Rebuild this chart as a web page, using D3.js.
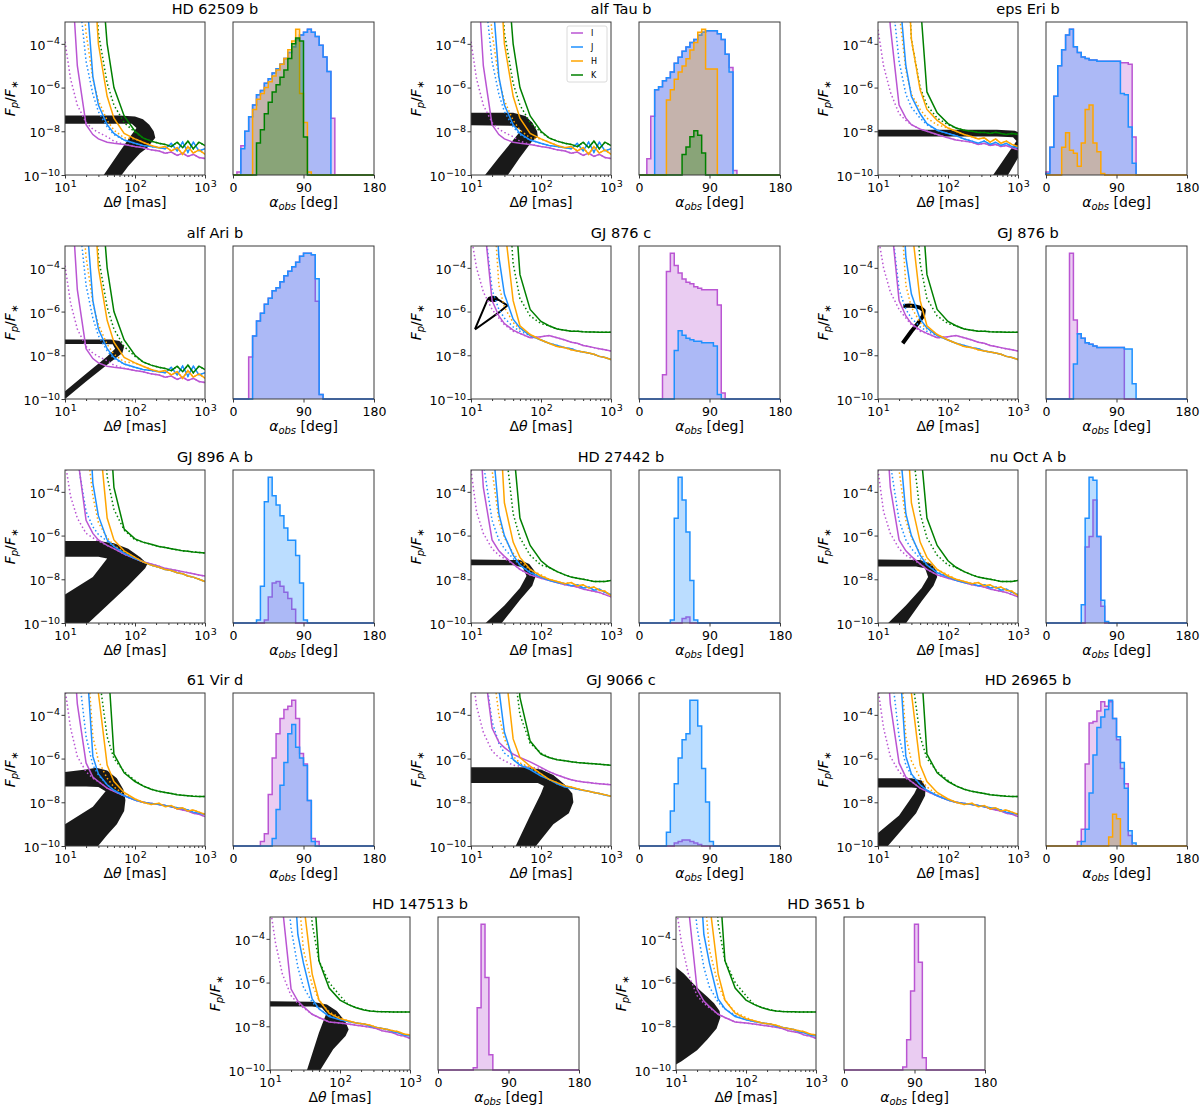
<!DOCTYPE html>
<meta charset="utf-8">
<style>
body { margin: 0; background: #fff; }
text { font-family: "DejaVu Sans", sans-serif; fill: #000; }
.frame { fill: none; stroke: #3a3a3a; stroke-width: 1; }
.tick line { stroke: #3a3a3a; }
</style>
<body></body>
<script src="https://cdn.jsdelivr.net/npm/d3@7"></script>
<script>

// planets, one pair of panels each
var planetNames = ["HD 62509 b", "alf Tau b", "eps Eri b", "alf Ari b", "GJ 876 c", "GJ 876 b",
  "GJ 896 A b", "HD 27442 b", "nu Oct A b", "61 Vir d", "GJ 9066 c", "HD 26965 b", "HD 147513 b", "HD 3651 b"];
// which contrast-curve set each planet uses (index into solidCurves / dottedCurves)
var contrastSet = [0, 0, 1, 0, 2, 2, 3, 4, 4, 5, 6, 5, 7, 7];

var bandNames = ["I", "J", "H", "K"];
var bandColors = ["mediumorchid", "dodgerblue", "orange", "green"];

// separation grid in mas; contrast values are log10(Fp/F*)
var sepGrid = [10, 12, 15, 20, 25, 30, 40, 50, 70, 100, 130, 170, 220, 270, 330, 400, 480, 570, 680, 820, 1000];

var solidGiant = [
  [3, 0, -5.0, -7.7, -8.15, -8.35, -8.5, -8.55, -8.6, -8.7, -8.75, -8.85, -8.9, -9.0, -8.95, -9.1, -9.0, -9.15, -9.05, -9.2, -9.25],
  [3, 3, 3, -1.5, -5.5, -6.8, -7.7, -8.1, -8.4, -8.55, -8.65, -8.7, -8.75, -8.8, -8.55, -8.9, -8.5, -8.95, -8.5, -8.9, -8.8],
  [3, 3, 3, 3, 0, -4.0, -6.4, -7.4, -8.1, -8.35, -8.5, -8.65, -8.75, -8.7, -8.9, -8.75, -9.05, -8.7, -9.0, -8.85, -9.05],
  [3, 3, 3, 3, 3, 1, -4.0, -6.0, -7.3, -8.0, -8.3, -8.45, -8.55, -8.6, -8.7, -8.5, -8.75, -8.45, -8.8, -8.5, -8.65]
];
var dottedGiant = [
  [-3.9, -5.6, -6.8, -7.6, -7.9, -8.05, -8.25, -8.45, -8.6, -8.7],
  [3, 2, -1.0, -4.8, -6.3, -7.1, -7.8, -8.15, -8.4, -8.55],
  [3, 3, 1, -3.5, -5.6, -6.6, -7.5, -7.95, -8.3, -8.35],
  [3, 3, 3, 3, 1, -3.5, -5.8, -6.8, -7.6, -8.05]
];

var solidEpsEri = [
  [3, 1, -3.2, -6.8, -7.4, -7.7, -7.9, -8.0, -8.15, -8.3, -8.4, -8.45, -8.5, -8.6, -8.55, -8.65, -8.6, -8.7, -8.65, -8.75, -8.85],
  [3, 3, 3, -1.5, -5.0, -6.4, -7.2, -7.65, -7.95, -8.1, -8.2, -8.35, -8.45, -8.55, -8.45, -8.6, -8.5, -8.65, -8.55, -8.7, -8.75],
  [3, 3, 3, 3, 1, -3.8, -6.1, -7.0, -7.5, -7.85, -8.0, -8.15, -8.25, -8.35, -8.3, -8.5, -8.35, -8.55, -8.45, -8.6, -8.7],
  [3, 3, 3, 3, 3, 2, -2, -6.2, -7.15, -7.65, -7.85, -7.95, -8.0, -8.05, -8.05, -8.1, -8.05, -8.1, -8.15, -8.1, -8.15]
];
var dottedEpsEri = [
  [-3.35, -5.0, -6.2, -7.2, -7.5, -7.7, -7.9, -8.0, -8.15, -8.3],
  [3, 3, -1, -4.8, -6.3, -6.9, -7.4, -7.7, -7.95, -8.1],
  [3, 3, 2, -2.5, -5.2, -6.3, -7.0, -7.4, -7.7, -7.85],
  [3, 3, 3, 3, 1, -3.8, -6.0, -6.8, -7.4, -7.7]
];

var solidGJ876 = [
  [3, 2, -1.5, -5.5, -6.2, -6.55, -6.85, -7.0, -7.2, -7.15, -7.1, -7.2, -7.3, -7.4, -7.45, -7.55, -7.6, -7.65, -7.7, -7.75, -7.8],
  [3, 3, 3, 2, -3.5, -5.2, -6.35, -6.75, -7.1, -7.3, -7.45, -7.55, -7.65, -7.7, -7.8, -7.85, -7.9, -7.95, -8.05, -8.1, -8.2],
  [3, 3, 3, 3, 2, -2, -5.5, -6.65, -7.05, -7.3, -7.45, -7.6, -7.65, -7.75, -7.8, -7.85, -7.9, -7.95, -8.05, -8.1, -8.2],
  [3, 3, 3, 3, 3, 3, 0, -4.3, -5.9, -6.45, -6.65, -6.8, -6.85, -6.9, -6.9, -6.92, -6.93, -6.94, -6.95, -6.95, -6.95]
];
var dottedGJ876 = [
  [-2.5, -4.0, -5.1, -5.9, -6.3, -6.6, -6.9, -7.0, -7.2, -7.15],
  [3, 3, -1.5, -5.0, -5.9, -6.3, -6.7, -6.9, -7.1, -7.3],
  [3, 3, 3, 0, -4.8, -5.8, -6.5, -6.8, -7.05, -7.3],
  [3, 3, 3, 3, 3, 2, -3.8, -5.4, -6.2, -6.55]
];

var solidGJ896 = [
  [3, 1, -2.3, -5.3, -5.9, -6.2, -6.45, -6.6, -6.85, -7.05, -7.2, -7.3, -7.4, -7.5, -7.55, -7.6, -7.65, -7.7, -7.75, -7.8, -7.85],
  [3, 3, 3, 2, -3.6, -5.1, -6.2, -6.5, -6.8, -7.05, -7.2, -7.35, -7.45, -7.55, -7.6, -7.7, -7.75, -7.85, -7.9, -8.0, -8.1],
  [3, 3, 3, 3, 2, -1, -5.2, -6.2, -6.7, -7.0, -7.2, -7.35, -7.45, -7.55, -7.6, -7.7, -7.75, -7.85, -7.9, -8.0, -8.1],
  [3, 3, 3, 3, 3, 3, 1, -3.8, -5.7, -6.15, -6.3, -6.4, -6.5, -6.55, -6.6, -6.65, -6.7, -6.72, -6.75, -6.77, -6.8]
];
var dottedGJ896 = [
  [-2.6, -4.2, -5.2, -5.9, -6.1, -6.25, -6.45, -6.6, -6.85, -7.05],
  [3, 3, -2.5, -4.9, -5.6, -5.95, -6.25, -6.5, -6.8, -7.05],
  [3, 3, 3, -1.5, -4.2, -5.4, -6.1, -6.45, -6.75, -7.0],
  [3, 3, 3, 3, 3, 3, -3.3, -4.8, -5.75, -6.2]
];

var solidSunA = [
  [3, 1, -3.8, -6.2, -6.7, -6.95, -7.3, -7.55, -7.8, -7.95, -8.05, -8.15, -8.25, -8.3, -8.35, -8.45, -8.5, -8.55, -8.6, -8.7, -8.8],
  [3, 3, 3, -1.5, -5.0, -6.0, -6.9, -7.35, -7.7, -7.9, -8.05, -8.15, -8.2, -8.3, -8.25, -8.4, -8.35, -8.5, -8.45, -8.6, -8.7],
  [3, 3, 3, 3, 0, -4.5, -6.3, -7.0, -7.55, -7.85, -8.0, -8.1, -8.2, -8.15, -8.3, -8.25, -8.4, -8.35, -8.5, -8.55, -8.75],
  [3, 3, 3, 3, 3, 3, -1.8, -5.2, -6.45, -7.15, -7.45, -7.65, -7.8, -7.9, -7.95, -8.0, -8.05, -8.1, -8.1, -8.1, -8.05]
];
var dottedSunA = [
  [-3.0, -4.9, -5.9, -6.6, -6.9, -7.05, -7.3, -7.55, -7.8, -7.95],
  [3, 3, -2.7, -5.3, -6.2, -6.6, -7.05, -7.35, -7.65, -7.9],
  [3, 3, 1, -3.0, -5.3, -6.1, -6.8, -7.2, -7.55, -7.8],
  [3, 3, 3, 3, 3, -1.5, -5.0, -6.1, -6.9, -7.35]
];

var solidSunB = [
  [3, 1, -3.5, -6.2, -6.85, -7.05, -7.35, -7.5, -7.7, -7.9, -8.0, -8.05, -8.1, -8.15, -8.2, -8.3, -8.35, -8.4, -8.5, -8.55, -8.65],
  [3, 3, 3, -1.2, -5.9, -6.7, -7.2, -7.45, -7.7, -7.9, -8.0, -8.05, -8.1, -8.15, -8.2, -8.25, -8.3, -8.35, -8.45, -8.5, -8.55],
  [3, 3, 3, 3, 1, -3.0, -6.3, -7.05, -7.55, -7.85, -8.0, -8.1, -8.05, -8.2, -8.15, -8.3, -8.25, -8.4, -8.35, -8.45, -8.55],
  [3, 3, 3, 3, 3, 3, -1.0, -5.8, -6.65, -7.05, -7.25, -7.4, -7.5, -7.55, -7.6, -7.65, -7.68, -7.7, -7.72, -7.73, -7.74]
];
var dottedSunB = [
  [-2.8, -4.6, -5.9, -6.6, -6.9, -7.05, -7.35, -7.5, -7.7, -7.9],
  [3, 3, -1.5, -5.0, -6.3, -6.75, -7.2, -7.45, -7.7, -7.9],
  [3, 3, 3, -0.5, -5.0, -6.1, -6.9, -7.3, -7.65, -7.85],
  [3, 3, 3, 3, 3, -2.0, -5.0, -6.0, -6.6, -7.0]
];

var solidGJ9066 = [
  [3, 3, -1.5, -4.6, -5.25, -5.5, -5.8, -5.95, -6.15, -6.4, -6.6, -6.75, -6.88, -6.97, -7.03, -7.07, -7.1, -7.13, -7.15, -7.17, -7.2],
  [3, 3, 3, 1, -2.8, -4.8, -6.05, -6.3, -6.5, -6.8, -6.95, -7.15, -7.3, -7.35, -7.4, -7.45, -7.5, -7.55, -7.6, -7.67, -7.72],
  [3, 3, 3, 3, 2, -1.5, -5.1, -5.95, -6.35, -6.7, -6.95, -7.1, -7.25, -7.3, -7.38, -7.45, -7.5, -7.55, -7.6, -7.66, -7.72],
  [3, 3, 3, 3, 3, 3, 1, -3.2, -5.2, -5.8, -5.95, -6.05, -6.1, -6.15, -6.18, -6.2, -6.22, -6.24, -6.26, -6.28, -6.3]
];
var dottedGJ9066 = [
  [-1.5, -3.6, -4.8, -5.65, -5.95, -6.1, -6.3, -6.35, -6.4, -6.45],
  [3, 3, -1.5, -4.3, -5.3, -5.75, -6.05, -6.25, -6.45, -6.75],
  [3, 3, 3, -1.5, -4.0, -5.1, -5.9, -6.2, -6.4, -6.7],
  [3, 3, 3, 3, 3, 3, -1.5, -4.0, -5.3, -5.75]
];

var solidSunC = [
  [3, 1.5, -2.5, -6.3, -6.85, -7.1, -7.45, -7.6, -7.8, -7.85, -7.9, -7.95, -8.0, -8.05, -8.1, -8.2, -8.25, -8.3, -8.4, -8.45, -8.55],
  [3, 3, 3, 1, -3.8, -5.1, -6.75, -7.2, -7.55, -7.7, -7.78, -7.85, -7.9, -8.0, -8.05, -8.1, -8.15, -8.25, -8.3, -8.4, -8.45],
  [3, 3, 3, 3, 2, -2.3, -5.6, -6.8, -7.4, -7.65, -7.75, -7.85, -7.9, -7.95, -8.05, -8.1, -8.15, -8.2, -8.25, -8.35, -8.4],
  [3, 3, 3, 3, 3, 3, -0.5, -5.0, -6.25, -6.8, -7.0, -7.15, -7.25, -7.3, -7.32, -7.33, -7.34, -7.35, -7.35, -7.35, -7.35]
];
var dottedSunC = [
  [-2.5, -4.2, -5.6, -6.6, -6.95, -7.15, -7.45, -7.6, -7.8, -7.85],
  [3, 3, 0.5, -3.5, -5.3, -6.2, -6.9, -7.2, -7.5, -7.7],
  [3, 3, 3, 3, -1.5, -4.5, -6.1, -6.8, -7.35, -7.6],
  [3, 3, 3, 3, 3, 3, -3.3, -5.0, -6.0, -6.6]
];

var solidCurves = [solidGiant, solidEpsEri, solidGJ876, solidGJ896, solidSunA, solidSunB, solidGJ9066, solidSunC];
var dottedCurves = [dottedGiant, dottedEpsEri, dottedGJ876, dottedGJ896, dottedSunA, dottedSunB, dottedGJ9066, dottedSunC];

// outline of the bundle of simulated orbits, [sep mas, log10 Fp/F*]
var orbitTracks = [
  [[10,-7.28],[60,-7.28],[100,-7.32],[130,-7.45],[160,-7.7],[185,-8.0],[195,-8.3],[150,-8.75],[118,-9.0],[80,-9.6],[61,-10.1],[34,-10.1],[60,-8.95],[85,-8.25],[105,-7.85],[90,-7.66],[50,-7.65],[10,-7.65]],
  [[10,-7.15],[40,-7.15],[60,-7.3],[75,-7.6],[88,-8.0],[90,-8.25],[75,-8.45],[50,-9.2],[32,-10.1],[15,-10.1],[25,-9.2],[40,-8.4],[52,-7.95],[40,-7.75],[10,-7.72]],
  [[10,-7.93],[500,-7.93],[900,-7.98],[1300,-8.2],[1300,-8.6],[690,-10.1],[420,-10.1],[950,-8.45],[850,-8.27],[500,-8.24],[10,-8.24]],
  [[10,-7.28],[45,-7.28],[60,-7.35],[70,-7.6],[66,-7.9],[40,-8.43],[20,-9.2],[10,-10.0],[10,-9.65],[20,-8.85],[40,-8.05],[52,-7.7],[48,-7.5],[30,-7.48],[10,-7.48]],
  [[11.4,-6.8],[17,-5.5],[18,-5.38],[20,-5.32],[22.5,-5.33],[24,-5.42],[22,-5.52],[19,-5.5],[18.5,-5.45],[21,-5.42],[25,-5.47],[33,-5.72],[26,-6.0],[11.4,-6.82]],
  [[22.5,-7.45],[30,-6.9],[38,-6.5],[44,-6.2],[45,-5.95],[40,-5.82],[33,-5.75],[28,-5.72],[23,-5.75]],
  [[10,-6.25],[30,-6.25],[50,-6.35],[80,-6.6],[120,-7.0],[150,-7.3],[140,-7.5],[80,-8.3],[40,-9.2],[20,-10.1],[10,-10.1],[10,-8.7],[25,-7.9],[40,-7.05],[30,-6.97],[10,-6.97]],
  [[10,-7.1],[50,-7.12],[68,-7.3],[80,-7.6],[83,-7.9],[75,-8.3],[50,-8.95],[26,-10.1],[15,-10.1],[30,-9.2],[50,-8.4],[62,-7.85],[55,-7.45],[40,-7.36],[10,-7.36]],
  [[10,-7.1],[40,-7.12],[58,-7.3],[68,-7.6],[70,-7.9],[62,-8.3],[42,-9.0],[24,-10.1],[13,-10.1],[25,-9.2],[42,-8.4],[52,-7.9],[47,-7.5],[35,-7.42],[10,-7.42]],
  [[10,-6.62],[20,-6.5],[28,-6.42],[40,-6.55],[55,-6.9],[68,-7.4],[73,-7.9],[70,-8.4],[55,-9.0],[40,-9.5],[28,-10.1],[10,-10.1],[10,-9.0],[25,-8.2],[38,-7.5],[30,-7.3],[20,-7.28],[10,-7.28]],
  [[10,-6.4],[60,-6.4],[100,-6.5],[150,-6.75],[220,-7.2],[280,-7.6],[290,-8.0],[250,-8.5],[150,-9.0],[80,-10.1],[42,-10.1],[70,-8.6],[100,-7.6],[110,-7.25],[90,-7.12],[10,-7.12]],
  [[10,-6.9],[30,-6.9],[42,-7.0],[48,-7.3],[47,-7.7],[35,-8.5],[20,-9.4],[13,-10.1],[10,-10.1],[10,-9.4],[20,-8.6],[33,-7.6],[36,-7.35],[30,-7.32],[10,-7.32]],
  [[10,-6.86],[40,-6.88],[65,-7.0],[90,-7.3],[120,-7.8],[133,-8.15],[120,-8.45],[80,-9.05],[50,-10.1],[33,-10.1],[50,-8.3],[64,-7.4],[55,-7.15],[40,-7.1],[10,-7.1]],
  [[10,-5.3],[13,-5.6],[17,-6.0],[22,-6.35],[28,-6.65],[35,-6.95],[42,-7.3],[43,-7.6],[38,-8.1],[28,-8.6],[20,-9.1],[12,-9.6],[10,-9.75]]
];
// planets whose track is a thin curve rather than a filled bundle
var orbitAsLine = [4, 5];

// histograms of observed phase angle, 5 deg bins from 0 to 180: [first bin, counts]
var histI = [
  [1, [2,20,30,40,48,55,58,63,66,70,73,76,80,84,88,93,96,98,100,98,95,89,81,71,39]],
  [2, [11,40,58,60,64,66,70,76,80,84,87,90,92,95,97,98,98,98,96,92,82,73,3]],
  [0, [2,19,54,75,86,96,100,88,84,81,80,79,79,78,78,78,78,78,78,77,77,76,26]],
  [4, [28,42,52,57,63,67,72,74,78,82,85,88,91,95,97,97,96,65,3]],
  [6, [16,84,96,88,83,79,77,76,74,73,72,72,72,72,62,4]],
  [6, [96,52,43,40,37,36,35,34,34,34,34,34,34,34]],
  [8, [2,17,26,27,24,20,16,9]],
  [11, [3,4]],
  [10, [50,57,81,57,11]],
  [7, [3,8,34,58,74,84,90,92,96,84,61,54,30,5,3]],
  [9, [2,3,4,4,3,2,1]],
  [8, [3,11,54,81,82,89,95,92,95,84,70,51,41,7]],
  [9, [1.5,41,96,61,10]],
  [15, [2,20,52,96,71,8]]
];
var histJ = [
  [2, [18,30,40,48,55,58,63,66,70,73,76,80,84,88,93,96,98,100,98,95,89,81,71]],
  [4, [58,60,64,66,70,76,80,84,87,90,92,95,97,98,98,98,96,92,82,70]],
  [0, [1,19,54,75,86,96,100,88,84,81,80,79,79,78,78,78,78,78,78,56,55,33,8]],
  [5, [42,52,57,63,67,72,74,78,82,85,88,91,95,97,97,96,80,3]],
  [9, [32,45,42,40,39,38,38,37,37,37,35,3]],
  [7, [23,43,40,37,36,35,34,34,34,34,34,34,34,33,33,10]],
  [6, [2,24,79,95,83,77,70,62,54,54,44,26,2]],
  [8, [2,69,96,81,60,28,2]],
  [9, [12,69,96,94,57,15,1]],
  [10, [5,24,40,55,74,80,65,58,53,30,3]],
  [7, [9,23,41,58,70,74,96,96,79,51,29,3]],
  [9, [3,11,35,60,78,85,90,96,84,72,55,38,10,2]],
  null,
  null
];
var histH = [
  [5, [45,52,56,60,64,68,72,76,80,86,92,100,56,36,2]],
  [7, [51,58,65,70,74,79,85,90,97,99,72,72,72]],
  [4, [19,29,17,15,6,22,45,48,22,16,1]],
  null, null, null, null, null, null, null, null,
  [16, [6,21,18]],
  null, null
];
var histK = [
  [6, [22,31,42,50,57,62,67,72,80,90,94,92,26]],
  [11, [14,19,26,30,27,15]],
  null, null, null, null, null, null, null, null, null, null, null, null
];
var histBands = [histI, histJ, histH, histK];

var sepMajor = [10, 100, 1000];
var sepMinor = [20, 30, 40, 50, 60, 70, 80, 90, 200, 300, 400, 500, 600, 700, 800, 900];
var fluxMajor = [1e-10, 1e-8, 1e-6, 1e-4];
var alphaTicks = [0, 90, 180];

// layout
var W = 140, H = 153, HIST_DX = 168, HW = 141;
var colX = [65, 471, 878];
var lastRowX = [270, 676];
var rowY = [22, 246, 470, 693, 917];

var svg = d3.select("body").append("svg")
  .attr("width", 1200)
  .attr("height", 1109);

var defs = svg.append("defs");
defs.append("filter").attr("id", "soft")
  .append("feGaussianBlur").attr("stdDeviation", 0.5);

function powLabel(sel, exp) {
  sel.text(null);
  sel.append("tspan").text("10");
  sel.append("tspan").attr("dy", -5.5).attr("dx", 0.5).style("font-size", "9.5px").text(exp);
}

function styleAxis(a) {
  a.select(".domain").remove();
  a.selectAll(".tick line").attr("stroke", "#3a3a3a");
}

function drawContrast(p, left, top) {
  var g = svg.append("g").attr("transform", "translate(" + left + "," + top + ")");
  var x = d3.scaleLog().domain([10, 1000]).range([0, W]);
  var y = d3.scaleLog().domain([1e-10, 1e-3]).range([H, 0]);

  g.append("clipPath").attr("id", "clip" + p)
    .append("rect").attr("width", W).attr("height", H);
  var plot = g.append("g").attr("clip-path", "url(#clip" + p + ")");

  var line = d3.line()
    .x(function(d) { return x(d[0]); })
    .y(function(d) { return y(Math.pow(10, d[1])); });

  // orbit bundle
  if (orbitAsLine.indexOf(p) >= 0) {
    plot.append("path")
      .attr("d", line(orbitTracks[p]))
      .attr("fill", "none")
      .attr("stroke", "#000")
      .attr("stroke-width", p == 5 ? 4 : 2)
      .attr("stroke-linejoin", "round");
  } else {
    plot.append("path")
      .attr("d", line(orbitTracks[p]) + "Z")
      .attr("fill", "#000")
      .attr("fill-opacity", 0.9)
      .attr("filter", "url(#soft)");
  }

  // contrast curves
  var set = contrastSet[p];
  bandNames.forEach(function(b, k) {
    var solid = solidCurves[set][k];
    var head = dottedCurves[set][k];
    var dotted = sepGrid.map(function(s, i) { return [s, i < head.length ? head[i] : solid[i]]; });
    plot.append("path")
      .attr("d", line(dotted))
      .attr("fill", "none")
      .attr("stroke", bandColors[k])
      .attr("stroke-width", 1.5)
      .attr("stroke-dasharray", "1.5,2.5");
  });
  bandNames.forEach(function(b, k) {
    var solid = solidCurves[set][k].map(function(v, i) { return [sepGrid[i], v]; });
    plot.append("path")
      .attr("d", line(solid))
      .attr("fill", "none")
      .attr("stroke", bandColors[k])
      .attr("stroke-width", 1.5);
  });

  // axes
  g.append("g").attr("transform", "translate(0," + H + ")")
    .call(d3.axisBottom(x).tickValues(sepMinor).tickSize(2).tickFormat(""))
    .call(styleAxis);
  var xa = g.append("g").attr("transform", "translate(0," + H + ")")
    .call(d3.axisBottom(x).tickValues(sepMajor).tickSize(3.5).tickPadding(3).tickFormat(""))
    .call(styleAxis);
  xa.selectAll(".tick text")
    .attr("y", 17).attr("dy", null)
    .style("font-size", "12.5px")
    .each(function(d) { powLabel(d3.select(this), String(Math.round(Math.log10(d)))); });

  var ya = g.append("g")
    .call(d3.axisLeft(y).tickValues(fluxMajor).tickSize(3.5).tickPadding(3).tickFormat(""))
    .call(styleAxis);
  ya.selectAll(".tick text")
    .attr("x", -5).attr("dy", "0.45em")
    .style("font-size", "12.5px")
    .each(function(d) { powLabel(d3.select(this), "\u2212" + Math.round(-Math.log10(d))); });

  g.append("rect").attr("class", "frame").attr("width", W).attr("height", H);

  // labels
  var xl = g.append("text").attr("x", W / 2).attr("y", H + 32)
    .attr("text-anchor", "middle").style("font-size", "14px");
  xl.append("tspan").text("\u0394");
  xl.append("tspan").style("font-style", "italic").text("\u03b8");
  xl.append("tspan").text(" [mas]");

  var yl = g.append("text")
    .attr("transform", "translate(-50," + (H / 2) + ") rotate(-90)")
    .attr("text-anchor", "middle").style("font-size", "14px");
  yl.append("tspan").style("font-style", "italic").text("F");
  yl.append("tspan").style("font-style", "italic").style("font-size", "10px").attr("dy", 3).text("p");
  yl.append("tspan").attr("dy", -3).text("/");
  yl.append("tspan").style("font-style", "italic").text("F");
  yl.append("tspan").style("font-size", "10px").attr("dy", 3).text("\u2217");

  // legend only on the second planet
  if (p == 1) {
    var lg = g.append("g").attr("transform", "translate(96,4)");
    lg.append("rect").attr("width", 40).attr("height", 56).attr("rx", 2)
      .attr("fill", "#fff").attr("fill-opacity", 0.8)
      .attr("stroke", "#d0d0d0").attr("stroke-width", 0.8);
    bandNames.forEach(function(b, k) {
      var yy = 7 + k * 14;
      lg.append("line").attr("x1", 4).attr("x2", 16).attr("y1", yy).attr("y2", yy)
        .attr("stroke", bandColors[k]).attr("stroke-width", 1.5);
      lg.append("text").attr("x", 24).attr("y", yy + 3)
        .style("font-size", "8px").text(b);
    });
  }
}

function drawHist(p, left, top) {
  var g = svg.append("g").attr("transform", "translate(" + left + "," + top + ")");
  var series = [];
  histBands.forEach(function(hb, k) {
    if (!hb[p]) return;
    var counts = d3.range(36).map(function() { return 0; });
    hb[p][1].forEach(function(c, i) { counts[hb[p][0] + i] = c; });
    series.push({ k: k, counts: counts });
  });
  var ymax = d3.max(series, function(s) { return d3.max(s.counts); }) * 1.05;
  var x = d3.scaleLinear().domain([0, 180]).range([0, HW]);
  var y = d3.scaleLinear().domain([0, ymax]).range([H, 0]);
  var line = d3.line().x(function(d) { return x(d[0]); }).y(function(d) { return y(d[1]); });

  series.forEach(function(s) {
    var pts = [[0, 0]];
    s.counts.forEach(function(c, i) { pts.push([i * 5, c], [(i + 1) * 5, c]); });
    pts.push([180, 0]);
    g.append("path").attr("d", line(pts) + "Z")
      .attr("fill", bandColors[s.k]).attr("fill-opacity", 0.3).attr("stroke", "none");
    g.append("path").attr("d", line(pts))
      .attr("fill", "none").attr("stroke", bandColors[s.k]).attr("stroke-width", 1.5);
  });

  var xa = g.append("g").attr("transform", "translate(0," + H + ")")
    .call(d3.axisBottom(x).tickValues(alphaTicks).tickSize(3.5).tickPadding(3))
    .call(styleAxis);
  xa.selectAll(".tick text").attr("y", 17).attr("dy", null).style("font-size", "12.5px");

  g.append("rect").attr("class", "frame").attr("width", HW).attr("height", H);

  var xl = g.append("text").attr("x", HW / 2).attr("y", H + 32)
    .attr("text-anchor", "middle").style("font-size", "14px");
  xl.append("tspan").style("font-style", "italic").text("\u03b1");
  xl.append("tspan").style("font-style", "italic").style("font-size", "10px").attr("dy", 3).text("obs");
  xl.append("tspan").attr("dy", -3).text(" [deg]");
}

planetNames.forEach(function(name, p) {
  var row = Math.floor(p / 3), col = p % 3;
  var left = row < 4 ? colX[col] : lastRowX[col];
  var top = rowY[row];
  drawContrast(p, left, top);
  drawHist(p, left + HIST_DX, top);
  svg.append("text")
    .attr("x", (left + left + HIST_DX + HW) / 2 - 4.5)
    .attr("y", top - 8.5)
    .attr("text-anchor", "middle")
    .style("font-size", "14.5px")
    .text(name);
});

</script>
